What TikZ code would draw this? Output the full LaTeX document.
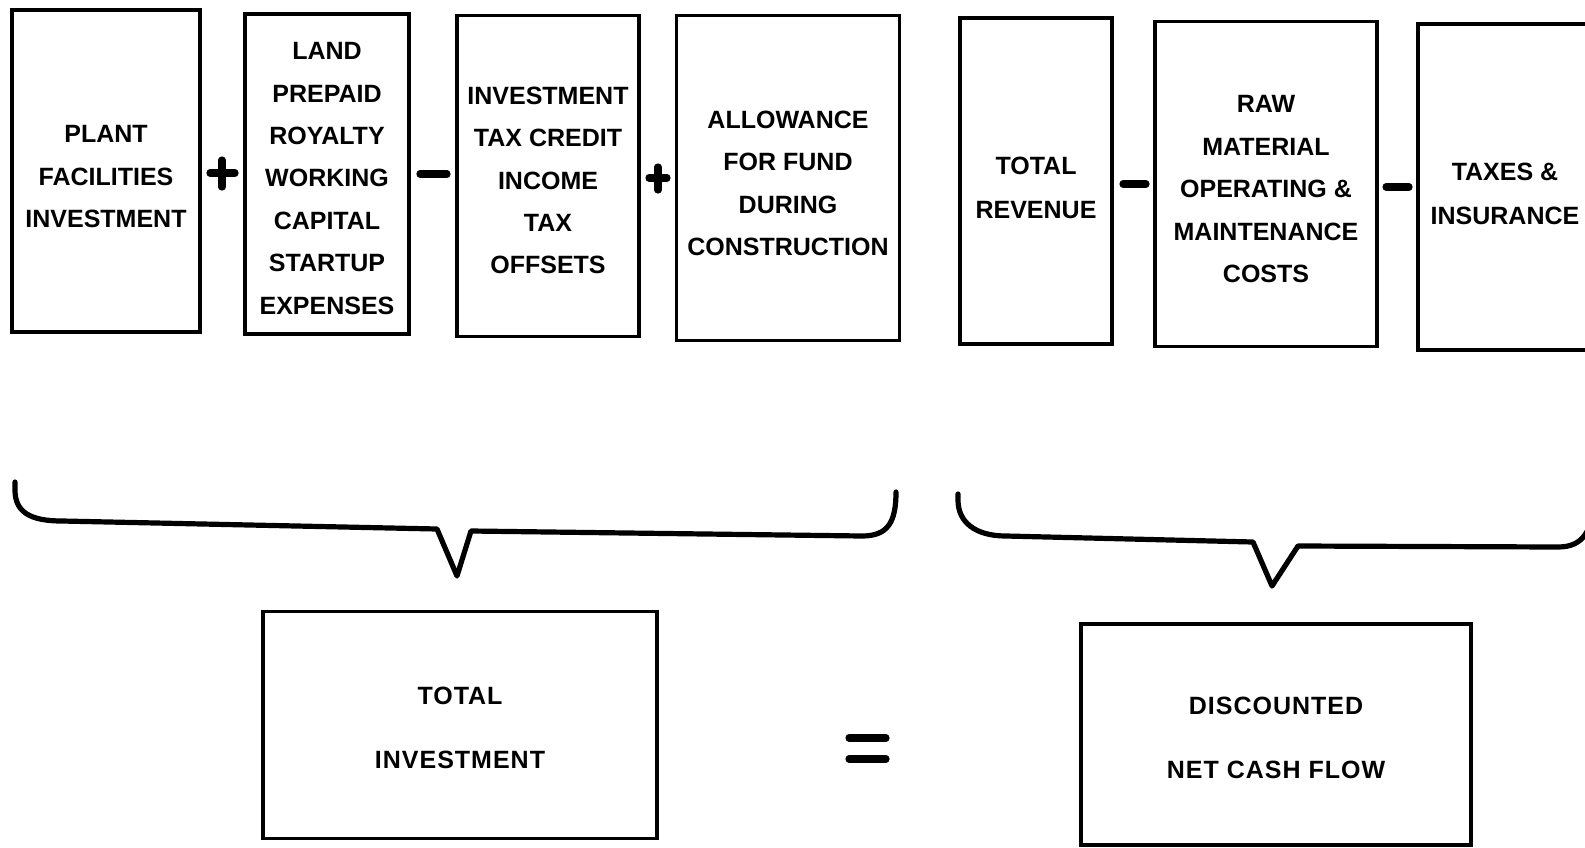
\documentclass[tikz,border=0pt]{standalone}
\usepackage{fontspec}
\setmainfont{Liberation Sans}
\begin{document}
\begin{tikzpicture}[x=0.5pt,y=-0.5pt,
  frame/.style={draw, line width=1.8pt, inner sep=0pt},
  itemtext/.style={align=center, inner sep=0pt,
    font=\bfseries\fontsize{12.5pt}{21.2pt}\selectfont},
  sumtext/.style={align=center, inner sep=0pt,
    font=\bfseries\fontsize{12.5pt}{32pt}\selectfont\addfontfeature{LetterSpace=4}},
  bracepath/.style={line width=2.6pt, line join=round, line cap=round},
  opbar/.style={line width=3.6pt, line cap=round}]
\useasboundingbox (0,0) rectangle (1585,847);

% top row: cost items
\node[frame, minimum width=94pt, minimum height=161pt] (plant) at (106,171) {};
\node[itemtext] (plantT) at ([yshift=-2.8pt]plant.center)
  {PLANT\\FACILITIES\\INVESTMENT};
\node[frame, minimum width=82pt, minimum height=160pt] (land) at (327,174) {};
\node[itemtext] (landT) at ([yshift=-2.2pt]land.center)
  {LAND\\PREPAID\\ROYALTY\\WORKING\\CAPITAL\\STARTUP\\EXPENSES};
\node[frame, minimum width=91pt, minimum height=160.5pt] (credit) at (548,176) {};
\node[itemtext] (creditT) at ([yshift=-2.2pt]credit.center)
  {INVESTMENT\\TAX CREDIT\\INCOME\\TAX\\OFFSETS};
\node[frame, minimum width=111.5pt, minimum height=162.5pt] (afudc) at (788,178) {};
\node[itemtext] (afudcT) at ([yshift=-2.6pt]afudc.center)
  {ALLOWANCE\\FOR FUND\\DURING\\CONSTRUCTION};

% top row: cash flow items
\node[frame, minimum width=76pt, minimum height=163pt] (revenue) at (1036,181) {};
\node[itemtext, font=\bfseries\fontsize{12.5pt}{22pt}\selectfont] (revenueT)
  at ([yshift=-3.2pt]revenue.center) {TOTAL\\REVENUE};
\node[frame, minimum width=111pt, minimum height=162.5pt] (costs) at (1266,184) {};
\node[itemtext] (costsT) at ([yshift=-2.6pt]costs.center)
  {RAW\\MATERIAL\\OPERATING \&\\MAINTENANCE\\COSTS};
\node[frame, minimum width=87pt, minimum height=163pt] (taxes) at (1505,187) {};
\node[itemtext, font=\bfseries\fontsize{12.5pt}{22pt}\selectfont] (taxesT)
  at ([yshift=-3.6pt]taxes.center) {TAXES \&\\INSURANCE};

% operators between the items
\draw[opbar] (210,173) -- (235,173);
\draw[opbar] (222,160) -- (222,187);
\draw[opbar] (420,174) -- (447,174);
\draw[opbar] (649,178) -- (667,178);
\draw[opbar] (658,167) -- (658,190);
\draw[opbar] (1123,184) -- (1146,184);
\draw[opbar] (1386,187) -- (1409,187);

% braces gathering each group
\draw[bracepath] (15,482) -- (15,490)
  .. controls (15,512) and (30,521) .. (62,521)
  -- (437,529) -- (457,576) -- (471,531) -- (862,536)
  .. controls (888,536) and (896,522) .. (896,492);
\draw[bracepath] (958,494) -- (958,500)
  .. controls (958,522) and (975,536) .. (1006,536)
  -- (1253,542) -- (1272,586) -- (1298,546) -- (1558,547)
  .. controls (1584,547) and (1592,530) .. (1594,500);

% results
\node[frame, minimum width=197pt, minimum height=113.5pt] (total) at (460,725) {};
\node[sumtext] (totalT) at ([yshift=-1.2pt]total.center) {TOTAL\\INVESTMENT};
\node[frame, minimum width=195pt, minimum height=110.5pt] (dcf) at (1276,734.5) {};
\node[sumtext] (dcfT) at ([yshift=-1.6pt]dcf.center) {DISCOUNTED\\NET CASH FLOW};

% equals sign
\draw[opbar] (849,738) -- (886,738);
\draw[opbar] (849,759) -- (886,759);
\end{tikzpicture}
\end{document}
